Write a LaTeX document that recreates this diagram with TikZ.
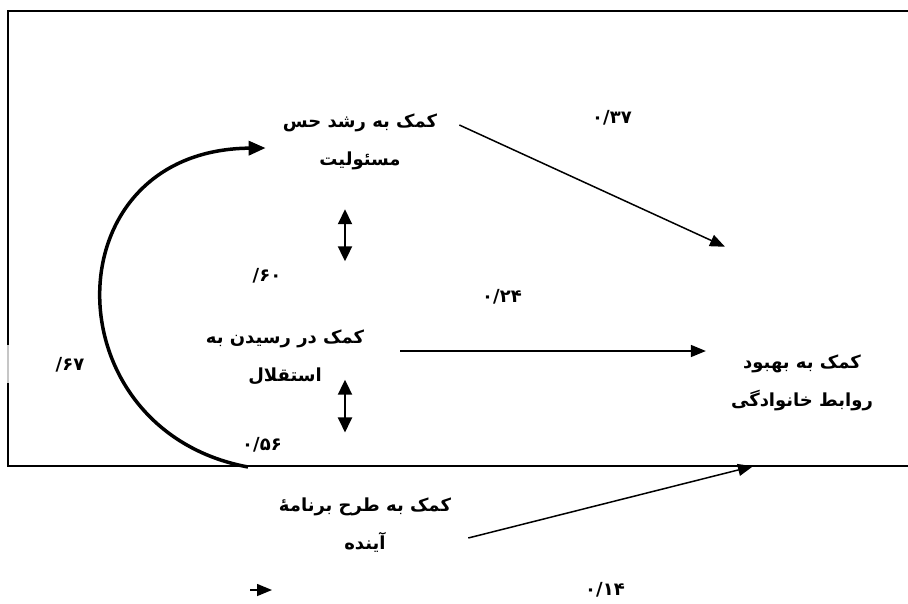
\documentclass[tikz,border=0pt]{standalone}
\usepackage{fontspec}
\usetikzlibrary{arrows.meta,calc}
\newfontfamily\arabicfont[Script=Arabic]{DejaVu Sans}
\newfontfamily\numfont{DejaVu Sans}
\TeXXeTstate=1
\begin{document}
\begin{tikzpicture}[x=1pt,y=-1pt,
  lbl/.style={font=\arabicfont\bfseries\fontsize{18}{38}\selectfont, align=center, inner sep=0pt},
  num/.style={font=\numfont\bfseries\fontsize{18}{20}\selectfont, inner sep=0pt},
  arr/.style={line width=1.5pt, -{Triangle[length=15pt,width=12pt]}},
  darr/.style={line width=2pt, {Triangle[length=15pt,width=14pt]}-{Triangle[length=15pt,width=14pt]}},
  curv/.style={line width=3.5pt, -{Triangle[length=17pt,width=14pt]}},
  frame/.style={line width=2pt}]
\useasboundingbox (0,0) rectangle (908,603);
% frame
\draw[frame] (908,11) -- (8,11) -- (8,345);
\draw[frame, gray!45] (8,345) -- (8,383);
\draw[frame] (8,383) -- (8,466) -- (908,466);
% variables
\node[lbl] (A) at (360,142) {\beginR کمک به رشد حس\endR\\\beginR مسئولیت\endR};
\node[lbl] (B) at (285,357) {\beginR کمک در رسیدن به\endR\\\beginR استقلال\endR};
\node[lbl] (C) at (802,383) {\beginR کمک به بهبود\endR\\\beginR روابط خانوادگی\endR};
\node[lbl] (D) at (365,525) {\beginR کمک به طرح برنامهٔ\endR\\\beginR آینده\endR};
% coefficients
\node[num] (n37) at (612,118) {۰/۳۷};
\node[num] (n60) at (267,276) {/۶۰};
\node[num] (n24) at (502,297) {۰/۲۴};
\node[num] (n67) at (70,365) {/۶۷};
\node[num] (n56) at (262,445) {۰/۵۶};
\node[num] (n14) at (605,590) {۰/۱۴};
% connectors
\draw[arr] ($(A.east)+(22,-17)$) -- ($(C.north)+(-77,-108)$);
\draw[arr] ($(B.east)+(36,-6)$) -- ($(C.west)+(-25,-32)$);
\draw[arr] ($(D.east)+(17,13)$) -- ($(C.south)+(-49,55)$);
\draw[darr] ($(A.south)+(-15,39)$) -- ($(B.north)+(60,-68)$);
\draw[darr] ($(B.south)+(60,-5)$) -- ($(D.north)+(-20,-65)$);
\draw[curv] ($(D)+(-117,-58)$) .. controls (50,430) and (50,150) .. ($(A.west)+(-17,6)$);
\coordinate (s1) at (250,590);
\coordinate (s2) at (272,590);
\draw[arr] (s1) -- (s2);
\end{tikzpicture}
\end{document}
